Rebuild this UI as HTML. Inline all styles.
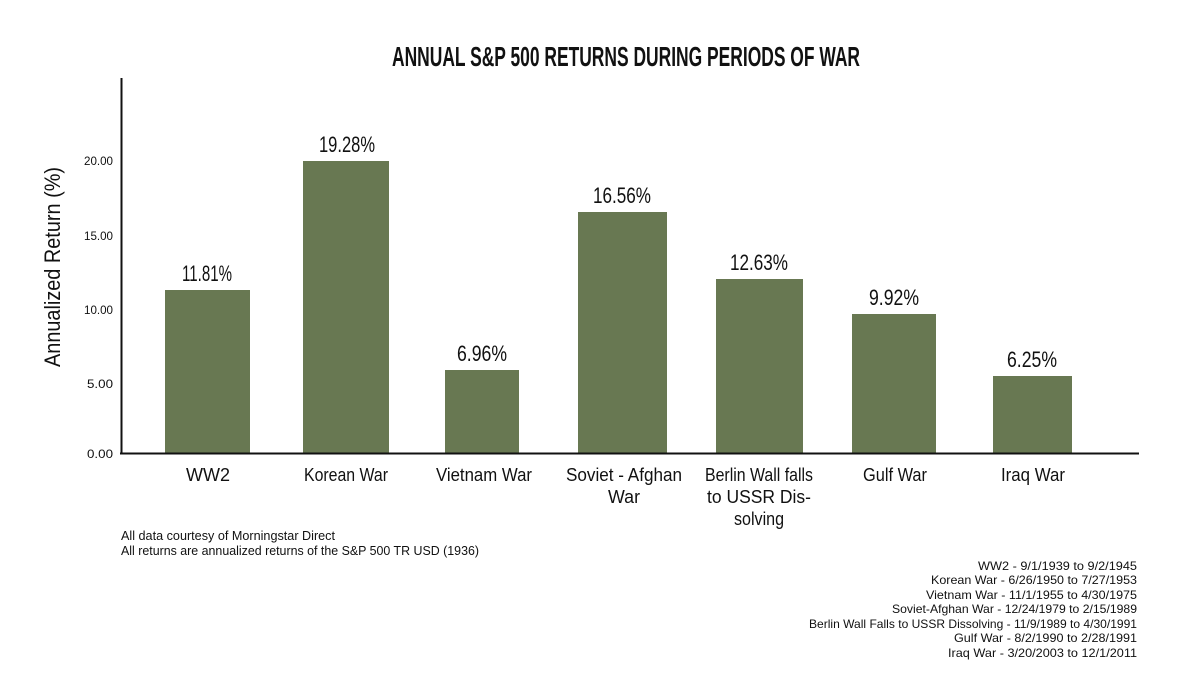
<!DOCTYPE html>
<html><head><meta charset="utf-8"><style>html,body{margin:0;padding:0;background:#fff}svg{display:block}</style></head>
<body>
<svg width="1199" height="674" xmlns="http://www.w3.org/2000/svg" font-family="Liberation Sans, sans-serif" fill="#111">
<text x="626" y="66" font-size="28" font-weight="bold" text-anchor="middle" textLength="468" lengthAdjust="spacingAndGlyphs">ANNUAL S&amp;P 500 RETURNS DURING PERIODS OF WAR</text>
<g fill="#687852">
<rect x="165" y="290" width="85" height="163"/>
<rect x="303" y="161" width="86" height="292"/>
<rect x="445" y="370" width="74" height="83"/>
<rect x="578" y="212" width="89" height="241"/>
<rect x="716" y="279" width="87" height="174"/>
<rect x="852" y="314" width="84" height="139"/>
<rect x="993" y="376" width="79" height="77"/>
</g>
<line x1="121.5" y1="78" x2="121.5" y2="454" stroke="#111" stroke-width="2"/>
<line x1="120" y1="453.5" x2="1139" y2="453.5" stroke="#111" stroke-width="2"/>
<g font-size="12" text-anchor="end">
<text x="113" y="165" textLength="29" lengthAdjust="spacingAndGlyphs">20.00</text>
<text x="113" y="240" textLength="29" lengthAdjust="spacingAndGlyphs">15.00</text>
<text x="113" y="314" textLength="29" lengthAdjust="spacingAndGlyphs">10.00</text>
<text x="113" y="388" textLength="26" lengthAdjust="spacingAndGlyphs">5.00</text>
<text x="113" y="458" textLength="26" lengthAdjust="spacingAndGlyphs">0.00</text>
</g>
<text transform="translate(60,267) rotate(-90)" font-size="22" text-anchor="middle" textLength="200" lengthAdjust="spacingAndGlyphs">Annualized Return (%)</text>
<g font-size="22" text-anchor="middle">
<text x="207" y="281" textLength="50" lengthAdjust="spacingAndGlyphs">11.81%</text>
<text x="347" y="152" textLength="56" lengthAdjust="spacingAndGlyphs">19.28%</text>
<text x="482" y="361" textLength="50" lengthAdjust="spacingAndGlyphs">6.96%</text>
<text x="622" y="203" textLength="58" lengthAdjust="spacingAndGlyphs">16.56%</text>
<text x="759" y="270" textLength="58" lengthAdjust="spacingAndGlyphs">12.63%</text>
<text x="894" y="305" textLength="50" lengthAdjust="spacingAndGlyphs">9.92%</text>
<text x="1032" y="367" textLength="50" lengthAdjust="spacingAndGlyphs">6.25%</text>
</g>
<g font-size="18" text-anchor="middle">
<text x="208" y="481">WW2</text>
<text x="346" y="481" textLength="84" lengthAdjust="spacingAndGlyphs">Korean War</text>
<text x="484" y="481" textLength="96" lengthAdjust="spacingAndGlyphs">Vietnam War</text>
<text x="624" y="481" textLength="116" lengthAdjust="spacingAndGlyphs">Soviet - Afghan</text>
<text x="624" y="503" textLength="32" lengthAdjust="spacingAndGlyphs">War</text>
<text x="759" y="481" textLength="108" lengthAdjust="spacingAndGlyphs">Berlin Wall falls</text>
<text x="759" y="503" textLength="104" lengthAdjust="spacingAndGlyphs">to USSR Dis-</text>
<text x="759" y="525" textLength="50" lengthAdjust="spacingAndGlyphs">solving</text>
<text x="895" y="481" textLength="64" lengthAdjust="spacingAndGlyphs">Gulf War</text>
<text x="1033" y="481" textLength="64" lengthAdjust="spacingAndGlyphs">Iraq War</text>
</g>
<g font-size="13">
<text x="121" y="540" textLength="214" lengthAdjust="spacingAndGlyphs">All data courtesy of Morningstar Direct</text>
<text x="121" y="555" textLength="358" lengthAdjust="spacingAndGlyphs">All returns are annualized returns of the S&amp;P 500 TR USD (1936)</text>
</g>
<g font-size="12" text-anchor="end">
<text x="1137" y="570" textLength="159" lengthAdjust="spacingAndGlyphs">WW2 - 9/1/1939 to 9/2/1945</text>
<text x="1137" y="584" textLength="206" lengthAdjust="spacingAndGlyphs">Korean War - 6/26/1950 to 7/27/1953</text>
<text x="1137" y="599" textLength="211" lengthAdjust="spacingAndGlyphs">Vietnam War - 11/1/1955 to 4/30/1975</text>
<text x="1137" y="613" textLength="245" lengthAdjust="spacingAndGlyphs">Soviet-Afghan War - 12/24/1979 to 2/15/1989</text>
<text x="1137" y="628" textLength="328" lengthAdjust="spacingAndGlyphs">Berlin Wall Falls to USSR Dissolving - 11/9/1989 to 4/30/1991</text>
<text x="1137" y="642" textLength="183" lengthAdjust="spacingAndGlyphs">Gulf War - 8/2/1990 to 2/28/1991</text>
<text x="1137" y="657" textLength="189" lengthAdjust="spacingAndGlyphs">Iraq War - 3/20/2003 to 12/1/2011</text>
</g>
</svg>
</body></html>
